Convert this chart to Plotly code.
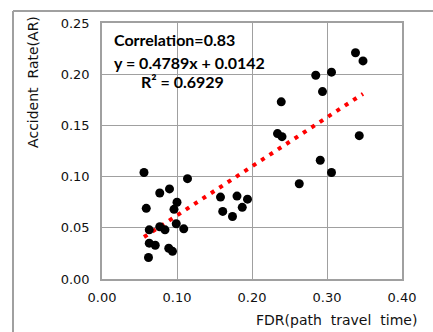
import plotly.graph_objects as go

fdr = [0.056, 0.114, 0.077, 0.090, 0.059, 0.100, 0.096, 0.063, 0.077, 0.084, 0.099, 0.109,
       0.063, 0.071, 0.089, 0.094, 0.062,
       0.158, 0.180, 0.194, 0.161, 0.187, 0.174,
       0.338, 0.348, 0.285, 0.306, 0.294, 0.239, 0.234, 0.240, 0.343, 0.291, 0.306, 0.263]
ar = [0.104, 0.098, 0.084, 0.088, 0.069, 0.075, 0.068, 0.048, 0.051, 0.048, 0.054, 0.049,
      0.035, 0.033, 0.030, 0.027, 0.021,
      0.080, 0.081, 0.078, 0.066, 0.070, 0.061,
      0.221, 0.213, 0.199, 0.202, 0.183, 0.173, 0.142, 0.139, 0.140, 0.116, 0.104, 0.093]
slope, intercept = 0.4789, 0.0142
trend_x = [0.056, 0.348]
trend_y = [slope * v + intercept for v in trend_x]

fig = go.Figure()
fig.add_trace(go.Scatter(x=trend_x, y=trend_y, mode="lines",
                         line=dict(color="#ff0000", width=4, dash="4px,6px"), showlegend=False))
fig.add_trace(go.Scatter(x=fdr, y=ar, mode="markers",
                         marker=dict(color="black", size=9), showlegend=False))

axis_common = dict(showgrid=True, gridcolor="#a0a0a0", gridwidth=1, showline=True,
                   linecolor="#a0a0a0", linewidth=1.5, mirror=True, zeroline=False,
                   ticks="outside", ticklen=0, tickformat=".2f",
                   tickfont=dict(family="DejaVu Sans", size=13, color="#111"))
fig.update_xaxes(range=[0, 0.4], dtick=0.1, ticklabelstandoff=6, **axis_common)
fig.update_yaxes(range=[0, 0.25], dtick=0.05, ticklabelstandoff=8, **axis_common)

bold = dict(family="Lato", size=16, color="black")
fig.add_annotation(x=0.033, y=0.9375, xref="paper", yref="paper", xanchor="left", yanchor="middle",
                   text="<b>Correlation=0.83</b>", showarrow=False, font=bold)
fig.add_annotation(x=0.033, y=0.844, xref="paper", yref="paper", xanchor="left", yanchor="middle",
                   text="<b>y = 0.4789x + 0.0142</b>", showarrow=False, font=bold)
fig.add_annotation(x=0.123, y=0.77, xref="paper", yref="paper", xanchor="left", yanchor="middle",
                   text="<b>R² = 0.6929</b>", showarrow=False, font=bold)
fig.add_annotation(x=-0.23, y=0.77, xref="paper", yref="paper", xanchor="center", yanchor="middle",
                   text="Accident  Rate(AR)", textangle=-90, showarrow=False,
                   font=dict(family="DejaVu Sans", size=14, color="#111"))
fig.add_annotation(x=0.78, y=-0.16, xref="paper", yref="paper", xanchor="center", yanchor="middle",
                   text="FDR(path  travel  time)", showarrow=False,
                   font=dict(family="DejaVu Sans", size=14, color="#111"))

# outer frame
fig.add_shape(type="line", xref="paper", yref="paper", x0=(13 - 102) / 300, x1=1.2,
              y0=(279 - 11) / 256, y1=(279 - 11) / 256, line=dict(color="#a0a0a0", width=2))
fig.add_shape(type="line", xref="paper", yref="paper", x0=(13 - 102) / 300, x1=(13 - 102) / 300,
              y0=(279 - 11) / 256, y1=-0.3, line=dict(color="#a0a0a0", width=2))

fig.update_layout(width=433, height=332, margin=dict(l=102, r=31, t=23, b=53),
                  paper_bgcolor="white", plot_bgcolor="white")
fig.write_html("out.html")
